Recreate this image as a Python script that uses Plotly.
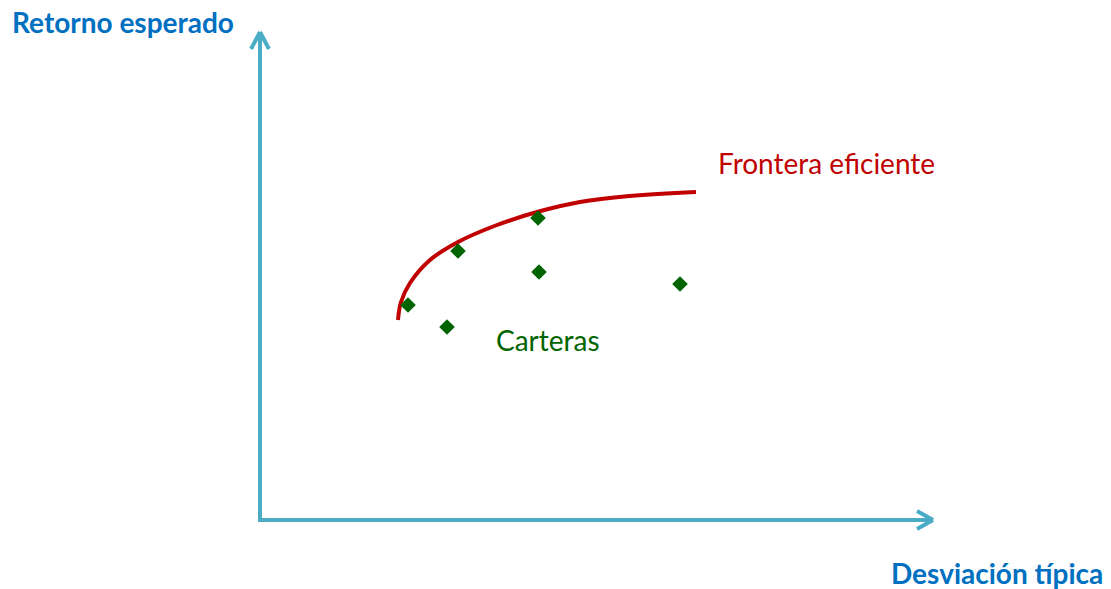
import plotly.graph_objects as go

# Data (abstract units: standard deviation vs expected return)
portfolio_sd = [1.48, 1.87, 1.98, 2.78, 2.79, 4.20]
portfolio_ret = [2.15, 1.93, 2.69, 3.02, 2.48, 2.36]

frontier_sd = [1.38, 1.41, 1.50, 1.70, 1.98, 2.37, 2.77, 3.20, 3.70, 4.36]
frontier_ret = [2.00, 2.18, 2.37, 2.60, 2.78, 2.95, 3.08, 3.18, 3.24, 3.28]

x_label = "Desviación típica"
y_label = "Retorno esperado"
frontier_label = "Frontera eficiente"
portfolio_label = "Carteras"

# Axis extents
x_axis_end = 6.73
y_axis_end = 4.88

AXIS_COLOR = "#4BACC6"
LABEL_COLOR = "#0070C0"
RED = "#C00000"
GREEN = "#006400"

fig = go.Figure()

fig.add_trace(go.Scatter(
    x=frontier_sd, y=frontier_ret, mode="lines",
    line=dict(color=RED, width=4, shape="spline", smoothing=1.1),
    hoverinfo="skip", showlegend=False))

fig.add_trace(go.Scatter(
    x=portfolio_sd, y=portfolio_ret, mode="markers",
    marker=dict(symbol="diamond", size=12, color=GREEN),
    showlegend=False))

# Axis lines with open chevron arrow heads
shapes = []
lw = 4
shapes.append(dict(type="line", x0=-0.02, y0=0, x1=x_axis_end, y1=0,
                   line=dict(color=AXIS_COLOR, width=lw)))
shapes.append(dict(type="line", x0=0, y0=-0.02, x1=0, y1=y_axis_end,
                   line=dict(color=AXIS_COLOR, width=lw)))
# arrow head on x
shapes.append(dict(type="line", x0=x_axis_end - 0.16, y0=0.09, x1=x_axis_end, y1=0,
                   line=dict(color=AXIS_COLOR, width=lw)))
shapes.append(dict(type="line", x0=x_axis_end - 0.16, y0=-0.09, x1=x_axis_end, y1=0,
                   line=dict(color=AXIS_COLOR, width=lw)))
# arrow head on y
shapes.append(dict(type="line", x0=-0.09, y0=y_axis_end - 0.17, x1=0, y1=y_axis_end,
                   line=dict(color=AXIS_COLOR, width=lw)))
shapes.append(dict(type="line", x0=0.09, y0=y_axis_end - 0.17, x1=0, y1=y_axis_end,
                   line=dict(color=AXIS_COLOR, width=lw)))

font_family = "Lato, 'Open Sans', sans-serif"
annotations = [
    dict(x=-2.50, y=4.98, xref="x", yref="y", text="<b>" + y_label + "</b>",
         showarrow=False, xanchor="left", yanchor="middle",
         font=dict(family=font_family, size=28, color=LABEL_COLOR)),
    dict(x=8.45, y=-0.53, xref="x", yref="y", text="<b>" + x_label + "</b>",
         showarrow=False, xanchor="right", yanchor="middle",
         font=dict(family=font_family, size=28, color=LABEL_COLOR)),
    dict(x=4.56, y=3.57, xref="x", yref="y", text=frontier_label,
         showarrow=False, xanchor="left", yanchor="middle",
         font=dict(family=font_family, size=28, color=RED)),
    dict(x=2.34, y=1.80, xref="x", yref="y", text=portfolio_label,
         showarrow=False, xanchor="left", yanchor="middle",
         font=dict(family=font_family, size=28, color=GREEN)),
]

fig.update_layout(
    width=1111, height=589,
    margin=dict(l=0, r=0, t=0, b=0),
    paper_bgcolor="white", plot_bgcolor="white",
    xaxis=dict(range=[-2.60, 8.51], visible=False, fixedrange=True),
    yaxis=dict(range=[-0.69, 5.20], visible=False, fixedrange=True),
    shapes=shapes, annotations=annotations,
    showlegend=False,
)

fig.write_html(
    "out.html",
    config={"displayModeBar": False},
    post_script="document.body.style.margin='0';document.body.style.padding='0';document.body.style.overflow='hidden';",
)
